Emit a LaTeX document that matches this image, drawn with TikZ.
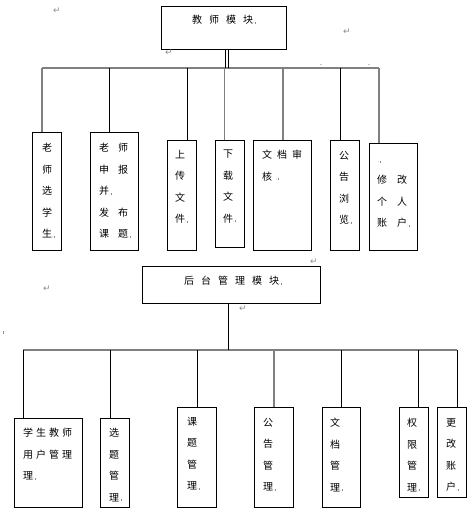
\documentclass[tikz,border=0pt]{standalone}
\usepackage{fontspec}
\newfontfamily\cjk{Noto Sans CJK SC}
\newfontfamily\symfont{DejaVu Sans}
\newcommand{\cg}[1]{\hspace{#1pt}}
\newcommand{\pmk}{{\color{black!45}\fontsize{5}{5}\selectfont.\kern0.4pt\rule{0.35pt}{2pt}}}

\begin{document}
\begin{tikzpicture}[x=1pt,y=-1pt]
		\tikzset{box/.style = {draw, line width=0.9pt, anchor=north west, inner sep=0pt}}
		\tikzset{txt/.style = {anchor=north west, inner sep=0pt, align=left, font=\cjk\fontsize{10}{21.5}\selectfont}}
		\tikzset{title/.style = {anchor=west, inner sep=0pt, font=\cjk\fontsize{10}{12}\selectfont}}
		\tikzset{edge/.style = {line width=0.9pt}}
		\tikzset{grey/.style = {line width=1.1pt, black!50}}
		\tikzset{bus/.style = {line width=1.4pt, black!50}}
		\tikzset{ret/.style = {inner sep=0pt, text=black!45, font=\symfont\fontsize{9}{9}\selectfont}}
		
		\useasboundingbox (0,0) rectangle (475,521);
		
		% teacher module
		\node[box, minimum width=125, minimum height=43] (t) at (161,6) {};
		\node[title] (tt) at (192,20) {教\cg7师\cg7模\cg7块\pmk};
		
		\node[box, minimum width=29, minimum height=118] (c1) at ( 32,132) {};
		\node[box, minimum width=48, minimum height=118] (c2) at ( 90,132) {};
		\node[box, minimum width=29, minimum height=110] (c3) at (167,140) {};
		\node[box, minimum width=29, minimum height=107] (c4) at (215,140) {};
		\node[box, minimum width=58, minimum height=110] (c5) at (253,140) {};
		\node[box, minimum width=29, minimum height=110] (c6) at (330,140) {};
		\node[box, minimum width=48, minimum height=107] (c7) at (369,143) {};
		
		\node[txt] (c1t) at ( 42,143) {老\\师\\选\\学\\生\pmk};
		\node[txt] (c2t) at ( 99,143) {老\cg9师\\申\cg9报\\并\pmk\\发\cg9布\\课\cg9题\pmk};
		\node[txt] (c3t) at (175,150) {上\\传\\文\\件\pmk};
		\node[txt] (c4t) at (223,150) {下\\载\\文\\件\pmk};
		\node[txt] (c5t) at (262,150) {文\cg5档\cg5审\\核\cg4\pmk};
		\node[txt] (c6t) at (339,151) {公\\告\\浏\\览\pmk};
		\node[ret] (c7m) at (379,162) {\pmk};
		\node[txt] (c7t) at (377,175) {修\cg{10}改\\个\cg{10}人\\账\cg{10}户\pmk};
		
		\coordinate (ta) at (225,68);
		\coordinate (tb) at (228.3,68);
		\coordinate (j1) at ( 42,68);
		\coordinate (j2) at (109,68);
		\coordinate (j3) at (187,68);
		\coordinate (j4) at (224.5,68);
		\coordinate (j5) at (283,68);
		\coordinate (j6) at (340,68);
		\coordinate (j7) at (379,68);
		
		\draw[bus]  (j1) -- (j7);
		\draw[edge] (ta |- t.south) -- (ta);
		\draw[edge] (tb |- t.south) -- (tb);
		\draw[grey] (j1) -- (j1 |- c1.north);
		\draw[edge] (j2) -- (j2 |- c2.north);
		\draw[edge] (j3) -- (j3 |- c3.north);
		\draw[grey] (j4) -- (j4 |- c4.north);
		\draw[grey] (j5) -- (j5 |- c5.north);
		\draw[edge] (j6) -- (j6 |- c6.north);
		\draw[grey] (j7) -- (j7 |- c7.north);
		
		% admin module
		\node[box, minimum width=178, minimum height=37] (b) at (142,266) {};
		\node[title] (bt) at (184,281) {后\cg7台\cg7管\cg7理\cg7模\cg7块\pmk};
		
		\node[box, minimum width=68, minimum height=89]  (b1) at ( 14,418) {};
		\node[box, minimum width=29, minimum height=89]  (b2) at (100,418) {};
		\node[box, minimum width=39, minimum height=100] (b3) at (177,407) {};
		\node[box, minimum width=39, minimum height=100] (b4) at (254,407) {};
		\node[box, minimum width=38, minimum height=100] (b5) at (322,407) {};
		\node[box, minimum width=29, minimum height=90]  (b6) at (399,407) {};
		\node[box, minimum width=29, minimum height=90]  (b7) at (437,407) {};
		
		\node[txt] (b1t) at ( 23,428) {学\cg3生\cg3教\cg3师\\用\cg3户\cg3管\cg3理\\理\pmk};
		\node[txt] (b2t) at (109,428) {选\\题\\管\\理\pmk};
		\node[txt] (b3t) at (187,417) {课\\题\\管\\理\pmk};
		\node[txt] (b4t) at (263,418) {公\\告\\管\\理\pmk};
		\node[txt] (b5t) at (330,418) {文\\档\\管\\理\pmk};
		\node[txt] (b6t) at (407,418) {权\\限\\管\\理\pmk};
		\node[txt] (b7t) at (446,418) {更\\改\\账\\户\pmk};
		
		\coordinate (k0) at (228,350);
		\coordinate (k1) at ( 23,350);
		\coordinate (k2) at (110,350);
		\coordinate (k3) at (197,350);
		\coordinate (k4) at (274,350);
		\coordinate (k5) at (341,350);
		\coordinate (k6) at (418,350);
		\coordinate (k7) at (457,350);
		
		\draw[bus]  (k1) -- (k7);
		\draw[edge] (k0 |- b.south) -- (k0);
		\draw[edge] (k1) -- (k1 |- b1.north);
		\draw[edge] (k2) -- (k2 |- b2.north);
		\draw[edge] (k3) -- (k3 |- b3.north);
		\draw[grey] (k4) -- (k4 |- b4.north);
		\draw[edge] (k5) -- (k5 |- b5.north);
		\draw[edge] (k6) -- (k6 |- b6.north);
		\draw[edge] (k7) -- (k7 |- b7.north);
		
		% stray marks
		\node[ret] (r1) at ( 57, 11) {↵};
		\node[ret] (r2) at (347, 32) {↵};
		\node[ret] (r3) at (169, 53) {↵};
		\node[ret] (r4) at ( 47,289) {↵};
		\node[ret] (r5) at (243,309) {↵};
		\node[ret] (r6) at (314,262) {↵};
		\node[ret] (d1) at (321, 65) {.};
		\node[ret] (d2) at (369, 65) {.};
		\node[ret] (d3) at (  3,332) {\rule{0.5pt}{3pt}};
		\end{tikzpicture}
\end{document}
